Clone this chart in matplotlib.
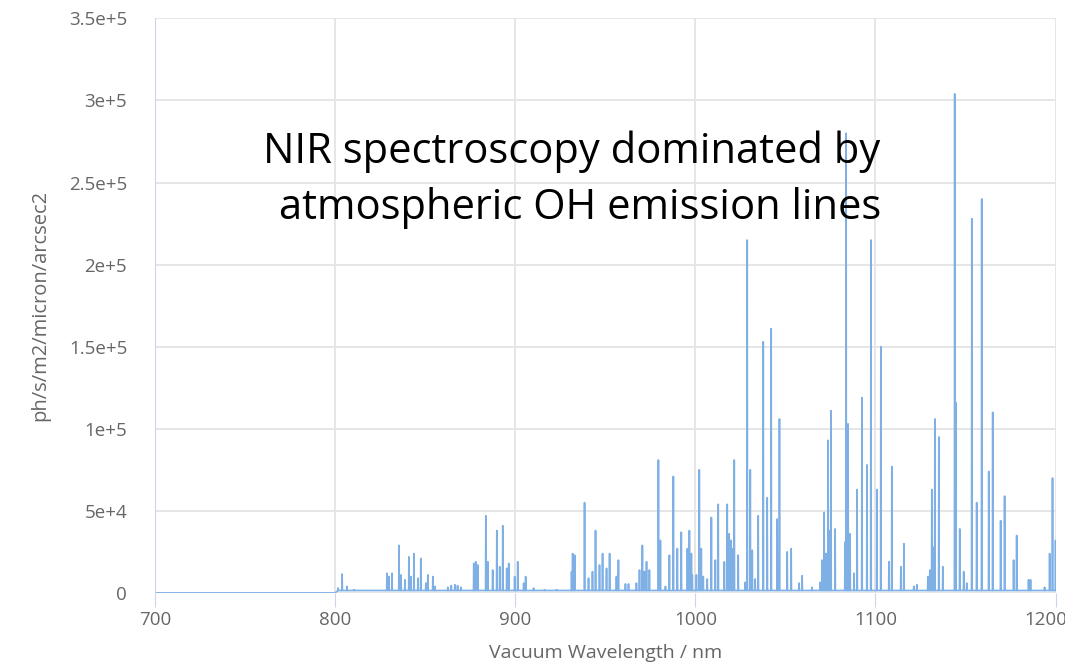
import numpy as np
import matplotlib.pyplot as plt
from matplotlib.transforms import ScaledTranslation

plt.rcParams['font.family'] = ['Open Sans', 'DejaVu Sans']

# OH emission lines: wavelength (nm) and peak flux
line_wl = [
    801.7, 803.9, 806.6, 810.5, 815.5,
    828.8, 829.9, 831.6, 835.5, 836.6, 838.8, 841.0, 842.1, 843.8, 846.0,
    847.6, 850.4, 851.5, 854.3, 855.4,
    862.6, 864.5, 866.5, 868.0, 869.8,
    877.0, 878.1, 879.2, 883.7, 884.8, 887.5, 889.8, 891.4, 893.1, 895.3,
    896.4, 899.7, 901.4, 904.7, 905.8, 910.2, 916.3, 923.0,
    931.3, 931.9, 933.0, 938.5, 940.7, 942.9, 944.6, 946.8, 948.5, 950.7,
    952.4, 956.2, 957.3, 961.2, 962.9, 967.3, 969.0, 970.6, 971.7, 972.9,
    974.5, 979.5, 980.6, 983.4, 985.6, 987.8, 990.0, 992.2, 995.6, 996.7,
    997.8, 998.3, 1000.6, 1002.2, 1003.3, 1004.4, 1006.6, 1008.9, 1011.1,
    1012.7, 1016.1, 1017.7, 1018.8, 1019.9, 1020.5, 1021.6, 1023.8,
    1027.7, 1028.8, 1030.5, 1031.6, 1033.2, 1034.9, 1037.7, 1039.9, 1042.1,
    1045.4, 1046.7, 1051.0, 1053.2, 1057.6, 1059.3, 1064.8,
    1069.3, 1070.4, 1071.5, 1072.6, 1073.7, 1074.2, 1075.3, 1077.6,
    1083.1, 1083.7, 1084.8, 1085.9, 1088.1, 1089.8, 1092.5, 1095.3, 1097.5,
    1100.8, 1103.0, 1107.5, 1109.1, 1114.1, 1115.8, 1121.3, 1123.0,
    1129.1, 1130.2, 1131.3, 1131.9, 1133.0, 1135.2, 1137.4,
    1144.0, 1144.6, 1146.8, 1149.0, 1150.7, 1153.5, 1156.2, 1159.0,
    1162.9, 1165.1, 1169.5, 1171.7, 1176.7, 1178.4, 1185.0, 1186.1,
    1193.9, 1196.7, 1198.3, 1200.0,
]
line_flux = [
    3000, 11500, 4000, 2000, 1500,
    12000, 10000, 12000, 29000, 11000, 8000, 22000, 10000, 24000, 9000,
    21000, 6000, 11000, 10000, 4000,
    3500, 4500, 5000, 4500, 3500,
    18000, 19000, 17000, 47000, 19000, 14000, 38000, 16000, 41000, 15000,
    18000, 10000, 19000, 6000, 10000, 3000, 2000, 2000,
    13000, 24000, 23000, 55000, 9000, 13000, 38000, 17000, 24000, 15000,
    24000, 10000, 20000, 5500, 5500, 6000, 14000, 29000, 13000, 19000,
    14000, 81000, 32000, 4000, 23000, 71000, 27000, 37000, 27000, 38000,
    24000, 11000, 11000, 75000, 27000, 10000, 8500, 46000, 20000,
    54000, 19000, 54000, 36000, 32000, 27000, 81000, 23000,
    6500, 215000, 75000, 26000, 8500, 47000, 153000, 58000, 161000,
    45000, 106000, 25000, 27000, 6000, 10500, 3500,
    6500, 20000, 49000, 24000, 93000, 38000, 111000, 39000,
    31000, 280000, 103000, 36000, 12000, 63000, 119000, 78000, 215000,
    63000, 150000, 19000, 77000, 16000, 30000, 4000, 5000,
    10000, 14000, 63000, 28000, 106000, 95000, 16000,
    304000, 116000, 39000, 13000, 6000, 228000, 55000, 240000,
    74000, 110000, 44000, 59000, 20000, 35000, 8000, 8000,
    3500, 24000, 70000, 32000,
]
x_ticks = [700, 800, 900, 1000, 1100, 1200]
y_ticks = [0, 50000, 100000, 150000, 200000, 250000, 300000, 350000]
y_tick_labels = ['0', '5e+4', '1e+5', '1.5e+5', '2e+5', '2.5e+5', '3e+5', '3.5e+5']

# build the spectrum as narrow spikes on a faint continuum
continuum = 1500
half = 0.15
wl = [700, 800]
flux = [0, 0]
for w, f in zip(line_wl, line_flux):
    wl += [w - half, w, w + half]
    flux += [continuum, f, continuum]
wl.append(1201)
flux.append(continuum)

fig = plt.figure(figsize=(10.65, 6.72), dpi=100)
ax = fig.add_axes([0.1455, 0.1176, 0.8465, 0.855])

ax.plot(wl, flux, color='#7EB0E6', linewidth=1.25)

ax.set_xlim(700, 1200.5)
ax.set_ylim(0, 350000)
ax.set_xticks(x_ticks)
ax.set_yticks(y_ticks)
ax.set_yticklabels(y_tick_labels)

ax.grid(True, color='#e4e4e4', linewidth=1.3)
ax.set_axisbelow(True)
for side in ['top', 'right', 'bottom']:
    ax.spines[side].set_visible(False)
ax.spines['left'].set_color('#ccd6eb')

ax.tick_params(axis='x', colors='#666666', labelsize=13.5, length=10,
               color='#ccd6eb', pad=3)
ax.tick_params(axis='y', colors='#666666', labelsize=13.5, length=0, pad=20)

# nudge the last x label so it stays inside the figure
last = ax.get_xticklabels()[-1]
last.set_transform(last.get_transform() + ScaledTranslation(-10 / 100, 0, fig.dpi_scale_trans))

ax.set_xlabel('Vacuum Wavelength / nm', fontsize=14, color='#666666', labelpad=11)
ax.set_ylabel('ph/s/m2/micron/arcsec2', fontsize=14.5, color='#666666', labelpad=13)

fig.text(0.537, 0.774, 'NIR spectroscopy dominated by', fontsize=30,
         ha='center', va='center', color='black')
fig.text(0.545, 0.691, 'atmospheric OH emission lines', fontsize=30,
         ha='center', va='center', color='black')

fig.savefig('out.png', dpi=100)
